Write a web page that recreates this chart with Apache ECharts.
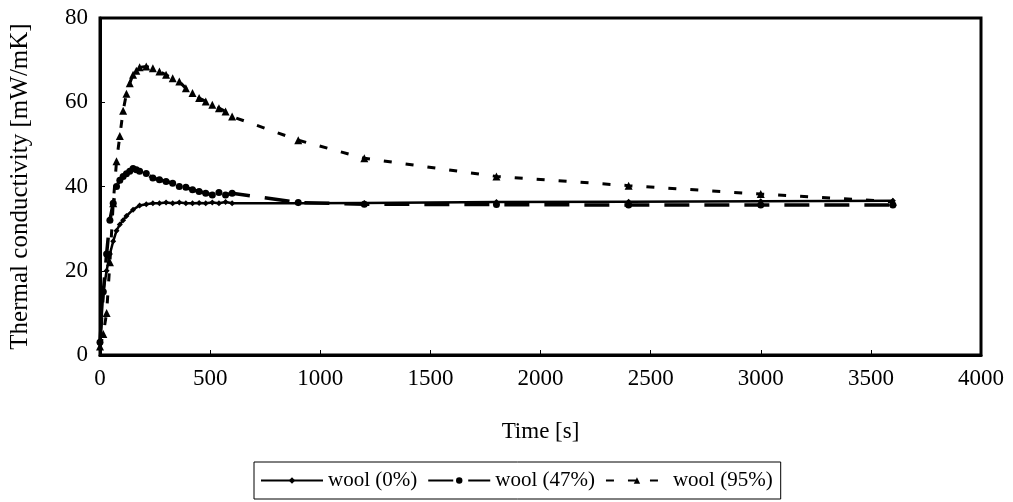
<!DOCTYPE html>
<html>
<head>
<meta charset="utf-8">
<script src="https://cdn.jsdelivr.net/npm/echarts@6/dist/echarts.min.js"></script>
<style>
  html, body { margin: 0; padding: 0; background: #fff; }
  #chart { width: 1013px; height: 502px; }
</style>
</head>
<body>
<div id="chart"></div>
<script>
// wool (0%)
var time0 = [0, 15, 30, 45, 60, 75, 90, 105, 120, 150, 180, 210, 240, 270, 300, 330, 360, 390, 420, 450, 480, 510, 540, 570, 600, 900, 1200, 1800, 2400, 3000, 3600];
var wool0 = [3, 15, 20, 24, 27, 29.5, 31, 32, 33, 34.5, 35.5, 35.8, 36, 36, 36.2, 36, 36.2, 36, 36, 36.1, 36, 36.2, 36, 36.3, 36, 36, 36.1, 36.3, 36.4, 36.5, 36.6];
// wool (47%)
var time47 = [0, 15, 30, 45, 60, 75, 90, 105, 120, 135, 150, 165, 180, 210, 240, 270, 300, 330, 360, 390, 420, 450, 480, 510, 540, 570, 600, 900, 1200, 1800, 2400, 3000, 3600];
var wool47 = [3, 15, 24, 32, 36, 40, 41.5, 42.4, 43, 43.6, 44.3, 44, 43.6, 43.1, 42, 41.6, 41.2, 40.8, 40, 39.8, 39.2, 38.8, 38.4, 38, 38.6, 38, 38.4, 36.2, 35.8, 35.7, 35.6, 35.6, 35.6];
// wool (95%)
var time95 = [0, 15, 30, 45, 60, 75, 90, 105, 120, 135, 150, 165, 180, 210, 240, 270, 300, 330, 360, 390, 420, 450, 480, 510, 540, 570, 600, 900, 1200, 1800, 2400, 3000, 3600];
var wool95 = [2, 5, 10, 22, 36, 46, 52, 58, 62, 64.5, 66.5, 67.5, 68.3, 68.5, 68.1, 67.3, 66.5, 65.7, 64.9, 63.3, 62.2, 61, 60.2, 59.4, 58.6, 57.8, 56.6, 51, 46.7, 42.4, 40.2, 38.2, 36.4];

var names = ['wool (0%)', 'wool (47%)', 'wool (95%)'];

function pairs(t, v) {
  return t.map(function (x, i) { return [x, v[i]]; });
}

var font = '"Liberation Serif", "Times New Roman", serif';
var chart = echarts.init(document.getElementById('chart'));

chart.setOption({
  animation: false,
  backgroundColor: '#fff',
  grid: {
    left: 97,
    right: 32,
    top: 18,
    bottom: 147,
    show: true,
    borderColor: '#000',
    borderWidth: 3
  },
  legend: {
    data: names,
    left: 254,
    top: 462,
    orient: 'horizontal',
    borderColor: '#000',
    borderWidth: 1,
    padding: [8, 8, 8, 6],
    itemGap: 10,
    itemWidth: 62,
    itemHeight: 8,
    textStyle: { fontFamily: font, fontSize: 21, color: '#000' }
  },
  xAxis: {
    type: 'value',
    min: 0,
    max: 4000,
    interval: 500,
    name: 'Time [s]',
    nameLocation: 'middle',
    nameGap: 65,
    nameTextStyle: { fontFamily: font, fontSize: 23, color: '#000' },
    axisLine: { lineStyle: { color: '#000', width: 3 } },
    axisTick: { inside: true, length: 5, lineStyle: { color: '#000', width: 1 } },
    axisLabel: { fontFamily: font, fontSize: 23, color: '#000', margin: 12, formatter: function (v) { return String(v); } },
    splitLine: { show: false }
  },
  yAxis: {
    type: 'value',
    min: 0,
    max: 80,
    interval: 20,
    name: 'Thermal conductivity [mW/mK]',
    nameLocation: 'middle',
    nameGap: 67,
    nameTextStyle: { fontFamily: font, fontSize: 25, color: '#000' },
    axisLine: { lineStyle: { color: '#000', width: 3 } },
    axisTick: { inside: true, length: 5, lineStyle: { color: '#000', width: 1 } },
    axisLabel: { fontFamily: font, fontSize: 23, color: '#000', margin: 12 },
    splitLine: { show: false }
  },
  series: [
    {
      name: names[0],
      type: 'line',
      data: pairs(time0, wool0),
      symbol: 'diamond',
      symbolSize: 6,
      itemStyle: { color: '#000' },
      lineStyle: { color: '#000', width: 2.5 },
      z: 3
    },
    {
      name: names[1],
      type: 'line',
      data: pairs(time47, wool47),
      symbol: 'circle',
      symbolSize: 7,
      itemStyle: { color: '#000' },
      lineStyle: { color: '#000', width: 3.5, type: [25, 15] },
      z: 2
    },
    {
      name: names[2],
      type: 'line',
      data: pairs(time95, wool95),
      symbol: 'triangle',
      symbolSize: 8,
      itemStyle: { color: '#000' },
      lineStyle: { color: '#000', width: 3, type: [8, 14] },
      z: 2
    }
  ]
});
</script>
</body>
</html>
